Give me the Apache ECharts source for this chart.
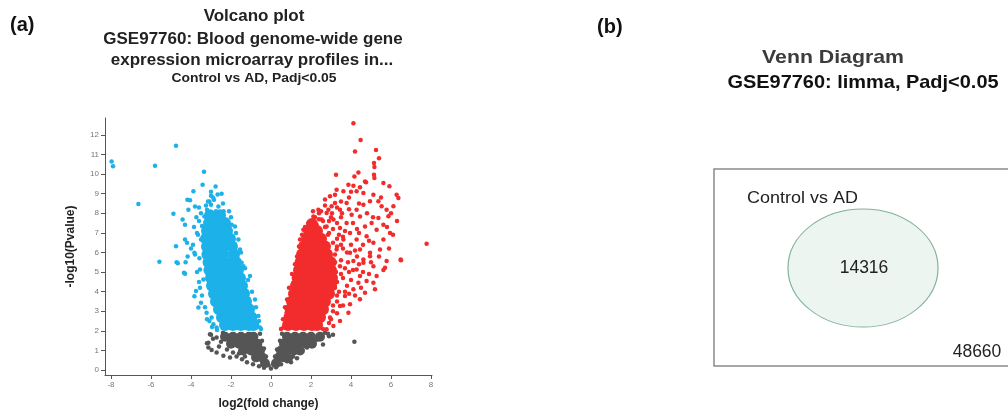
<!DOCTYPE html>
<html>
<head>
<meta charset="utf-8">
<title>Volcano plot / Venn diagram</title>
<script src="https://cdn.jsdelivr.net/npm/echarts@6/dist/echarts.min.js"></script>
<style>
  html, body { margin: 0; padding: 0; background: #fff; }
  #main { width: 1008px; height: 415px; }
</style>
</head>
<body>
<div id="main"></div>
<script>
// axis ticks
const xTicks = [-8, -6, -4, -2, 0, 2, 4, 6, 8]
const yTicks = [0, 1, 2, 3, 4, 5, 6, 7, 8, 9, 10, 11, 12]

// down-regulated (blue): dense body
const blueCore = [
  [-2.3,2.3],[-1.9,2.3],[-1.5,2.3],[-1.1,2.3],[-0.88,2.3],
  [-2.45,2.7],[-2.05,2.7],[-1.65,2.7],[-1.25,2.7],[-0.98,2.7],
  [-2.6,3.1],[-2.2,3.1],[-1.8,3.1],[-1.4,3.1],[-1.1,3.1],
  [-2.75,3.5],[-2.35,3.5],[-1.95,3.5],[-1.55,3.5],[-1.25,3.5],
  [-2.85,3.9],[-2.45,3.9],[-2.05,3.9],[-1.65,3.9],[-1.35,3.9],
  [-2.95,4.3],[-2.55,4.3],[-2.15,4.3],[-1.75,4.3],[-1.45,4.3],
  [-3.0,4.7],[-2.6,4.7],[-2.2,4.7],[-1.8,4.7],[-1.55,4.7],
  [-3.08,5.1],[-2.68,5.1],[-2.28,5.1],[-1.88,5.1],[-1.65,5.1],
  [-3.12,5.5],[-2.72,5.5],[-2.32,5.5],[-1.92,5.5],[-1.75,5.5],
  [-3.18,5.9],[-2.78,5.9],[-2.38,5.9],[-1.85,5.9],
  [-3.2,6.3],[-2.8,6.3],[-2.4,6.3],[-1.95,6.3],
  [-3.25,6.7],[-2.85,6.7],[-2.45,6.7],[-2.05,6.7],
  [-3.2,7.1],[-2.8,7.1],[-2.4,7.1],[-2.2,7.1],
  [-3.1,7.5],[-2.7,7.5],[-2.3,7.5],
  [-3.05,7.9],[-2.55,7.9]
]
// down-regulated (blue): scattered points and outliers
const blueDots = [
  [-7.97,10.64],[-7.9,10.4],[-6.63,8.47],[-5.8,10.42],[-4.75,11.45],[-3.35,10.12],
  [-3.42,9.46],[-2.77,9.37],[-2.47,9.0],[-3.88,9.12],[-4.18,8.69],[-4.05,8.66],
  [-4.88,7.98],[-5.58,5.53],[-4.72,5.5],[-4.66,5.45],[-4.75,6.32],[-4.42,7.68],
  [-4.3,6.66],[-4.27,5.5],[-4.35,4.96],[-4.3,4.92],[-3.75,4.03],[-3.63,3.19],[-3.08,2.5],
  [-4.13,8.18],[-3.8,8.35],[-3.73,7.8],[-4.3,7.42],[-4.2,6.5],[-4.0,6.2],[-3.7,7.0],
  [-3.45,7.35],[-3.2,8.18],[-3.0,8.43],[-2.85,8.69],[-2.63,8.35],[-2.37,8.1],[-2.22,7.5],
  [-1.97,7.42],[-1.8,7.33],[-3.0,8.9],[-2.67,8.96],[-3.08,8.6],[-3.33,7.83],[-3.5,6.66],
  [-3.83,5.98],[-4.17,5.8],[-3.58,5.7],[-1.63,6.66],[-1.55,6.15],[-1.47,5.47],
  [-3.55,5.13],[-3.38,4.62],[-3.83,3.77],[-3.5,3.43],[-3.22,2.93],[-2.97,2.68],[-2.88,2.34],
  [-2.72,2.17],[-1.05,4.8],[-0.8,3.6],[-0.63,2.76],[-0.55,2.17],[-1.38,5.3],
  [-3.6,4.5],[-3.7,5.0],[-3.8,5.9],[-3.9,6.4],[-3.65,6.9],[-3.85,7.3],[-3.6,7.6],
  [-3.3,3.2],[-3.45,3.8],[-3.55,4.2],[-3.2,2.6],[-2.95,2.2],[-2.7,2.05],[-3.5,8.0],
  [-3.25,8.4],[-2.4,8.5],[-2.1,8.1],[-2.0,7.8],[-1.75,7.0],[-1.5,6.0],[-1.3,5.2],
  [-1.15,4.6],[-0.95,4.0],[-0.75,3.2],[-0.6,2.5],[-0.5,2.1],[-3.0,9.1],[-2.9,8.8],
  [-3.15,8.6],[-3.6,8.3],[-2.75,8.1]
]

// up-regulated (red): dense body
const redCore = [
  [0.85,2.3],[1.25,2.3],[1.65,2.3],[2.05,2.3],[2.3,2.3],
  [0.92,2.7],[1.3,2.7],[1.7,2.7],[2.1,2.7],[2.45,2.7],
  [0.98,3.1],[1.38,3.1],[1.78,3.1],[2.18,3.1],[2.6,3.1],
  [1.05,3.5],[1.45,3.5],[1.85,3.5],[2.25,3.5],[2.7,3.5],
  [1.15,3.9],[1.55,3.9],[1.95,3.9],[2.35,3.9],[2.8,3.9],[2.9,3.9],
  [1.25,4.3],[1.65,4.3],[2.05,4.3],[2.45,4.3],[2.85,4.3],[3.0,4.3],
  [1.33,4.7],[1.73,4.7],[2.13,4.7],[2.53,4.7],[2.93,4.7],[3.05,4.7],
  [1.4,5.1],[1.8,5.1],[2.2,5.1],[2.6,5.1],[3.0,5.1],
  [1.48,5.5],[1.88,5.5],[2.28,5.5],[2.68,5.5],[2.98,5.5],
  [1.55,5.9],[1.95,5.9],[2.35,5.9],[2.8,5.9],
  [1.65,6.3],[2.05,6.3],[2.45,6.3],[2.7,6.3],
  [1.8,6.7],[2.2,6.7],[2.5,6.7],
  [1.9,7.1],[2.3,7.1],
  [2.05,7.45]
]
// up-regulated (red): scattered points and outliers
const redDots = [
  [4.12,12.59],[4.48,11.74],[4.2,11.15],[5.25,11.23],[5.4,10.81],[5.15,10.56],[5.17,10.36],
  [5.15,9.96],[5.17,9.8],[4.37,10.08],[3.25,9.96],[4.17,9.88],[4.7,9.62],[4.12,9.4],
  [4.45,9.33],[4.75,9.58],[3.87,9.46],[3.62,9.12],[3.2,8.95],[2.95,8.87],[2.7,8.7],
  [3.28,9.2],[4.28,9.12],[4.62,9.03],[5.12,8.95],[5.62,9.55],[5.92,9.38],[6.28,8.95],
  [6.37,8.78],[6.12,8.36],[5.78,8.18],[5.87,7.85],[5.53,8.36],[5.37,8.61],[4.95,8.61],
  [4.62,8.44],[4.28,8.18],[4.03,7.93],[3.78,8.52],[3.45,8.18],[3.03,8.36],[2.78,8.01],
  [2.53,7.68],[2.28,7.42],[5.37,7.76],[5.62,7.42],[5.03,7.5],[4.7,7.33],[4.45,7.84],
  [5.28,7.16],[5.95,7.0],[5.62,6.66],[5.12,6.49],[4.78,6.83],[7.78,6.44],[6.5,5.6],
  [5.45,6.15],[4.95,5.98],[4.62,5.64],[5.78,5.56],[6.48,5.64],[5.7,5.22],[5.62,5.1],
  [5.28,4.8],[5.12,4.46],[5.2,4.12],[4.78,4.54],[4.7,3.95],[4.45,3.61],[4.37,4.46],
  [3.95,3.36],[3.87,2.93],[3.45,2.51],[3.7,3.78],[4.12,4.12],[4.28,5.13],[4.62,5.47],
  [4.95,5.81],[3.45,3.27],[3.12,2.25],[2.95,2.68],[2.78,2.08],[5.12,5.3],[4.45,4.8],
  [0.62,2.17],[0.78,2.93],[0.95,3.61],[1.12,4.46],[1.28,5.13],[1.45,5.81],
  [1.45,6.66],[1.62,7.16],[1.87,7.5],[2.12,7.84],[1.78,6.32],[2.78,7.33],[3.12,7.68],
  [3.45,7.25],[3.78,7.5],[3.95,7.0],[3.62,6.66],[4.28,6.66],[3.28,6.15],[3.95,5.98],
  [4.45,6.15],[4.12,5.56],[2.87,8.18],[3.2,8.52],[2.37,8.18],
  [3.4,6.9],[3.6,6.2],[3.5,5.6],[3.7,5.2],[3.6,4.7],[3.8,4.3],[3.4,4.0],[3.3,3.5],
  [3.1,3.0],[2.9,2.4],[2.6,2.1],[3.2,5.9],[3.1,6.5],[2.9,7.0],[2.6,7.6],[2.4,8.0],
  [2.1,8.1],[3.0,7.8],[3.3,8.3],[3.9,8.8],[4.0,6.4],[4.3,7.2],[3.55,8.0],
  [3.3,4.5],[3.5,4.9],[3.9,5.0],[4.0,4.6],[3.7,4.0],[4.2,3.8],[3.6,3.3],[3.3,2.9],
  [3.0,2.6],[3.9,3.9],[4.5,4.2],[4.9,4.9],[4.4,5.4],[3.85,5.5],[3.5,6.4],[3.8,6.0],
  [4.2,6.1],[4.6,6.4],[4.9,6.6],[4.4,7.0],[4.1,7.5],[3.7,7.1],[3.3,7.5],[3.1,7.2],
  [3.5,7.8],[3.9,8.2],[4.4,8.5],[4.8,8.0],[5.1,7.8],[5.5,8.8],[4.0,9.1],[3.5,8.6],
  [3.05,8.0],[2.7,8.4],[2.5,8.1],[2.9,7.6],[3.3,6.7],[3.6,6.8],[4.3,5.8],[4.1,5.1],
  [4.6,5.0],[5.0,5.5],[5.4,5.8],[5.9,6.2],[6.1,6.9],[5.8,7.3],[6.3,7.6],[6.0,8.0],
  [3.2,4.2],[3.3,3.8],[3.1,3.3],[3.45,5.3],[3.25,5.0],[3.2,5.5],[3.3,6.3],[2.85,6.9],
  [2.7,7.3],[2.4,7.7],[2.2,7.8],[1.7,7.3],[1.55,6.9],[1.4,6.3],[1.3,5.8],[1.2,5.4],
  [1.05,4.9],[0.9,4.2],[0.8,3.6],[0.7,3.2],[0.6,2.6],[0.5,2.1]
]

// not significant (grey)
const grayCore = [
  [-2.3,1.7],[-1.9,1.7],[-1.5,1.7],[-1.1,1.7],[-0.88,1.7],
  [0.8,1.7],[1.2,1.7],[1.6,1.7],[2.0,1.7],[2.45,1.7],
  [-2.0,1.35],[-1.6,1.35],[-1.2,1.35],[-0.85,1.35],[-0.68,1.35],
  [0.65,1.35],[1.0,1.35],[1.4,1.35],[1.8,1.35],[2.05,1.35],
  [-1.4,1.0],[-1.0,1.0],[-0.7,1.0],[-0.55,1.0],
  [0.5,1.0],[0.8,1.0],[1.15,1.0],[1.45,1.0],
  [-0.75,0.65],[-0.45,0.65],[0.4,0.65],[0.65,0.65],[0.85,0.6],
  [-0.3,0.35],[0.25,0.35]
]
const grayDots = [
  [-3.2,1.37],[-3.13,1.15],[-2.97,1.03],[-2.72,0.9],[-2.38,0.73],[-2.05,0.64],[-1.72,0.69],
  [-1.45,0.55],[-1.2,0.4],[-0.9,0.3],[-0.6,0.2],[-0.35,0.12],[0.0,0.08],[0.25,0.15],
  [0.5,0.3],[0.8,0.45],[1.1,0.7],[1.45,0.95],[1.8,1.15],[2.1,1.35],[2.5,1.6],[2.9,1.73],
  [4.17,1.44],[-2.9,1.6],[-3.0,1.8],[-2.6,1.2],[-2.2,1.05],[-1.9,0.9],[-0.12,0.25],
  [0.12,0.3],[-3.05,1.83],[-2.72,1.66],[-3.13,1.4],[-2.5,1.45],[-2.4,1.9],[2.7,1.9],
  [2.85,1.85],[2.3,1.55],[-1.6,0.85],[-1.3,0.7],[1.3,0.6],[1.0,0.4],[2.6,1.3],[3.1,1.8],
  [-0.55,1.85],[0.55,1.85],[-0.45,1.5],[0.45,1.5],[-0.35,1.1],[0.3,1.05],[-0.25,0.7],[0.2,0.7]
]

// venn diagram
const vennSets = ['Control vs AD']
const vennCounts = [14316]
const vennOutside = 48660

const font = '"Liberation Sans", Arial, sans-serif'
const chart = echarts.init(document.getElementById('main'))

function txt(x, y, text, size, weight, color, align, sx) {
  return {
    type: 'text', x: x, y: y, scaleX: sx || 1, silent: true,
    style: {
      text: text, fill: color || '#222', textAlign: align || 'center', verticalAlign: 'middle',
      font: (weight || 'normal') + ' ' + size + 'px ' + font
    }
  }
}

const graphics = [
  txt(10, 25, '(a)', 20, 'bold', '#111', 'left'),
  txt(254, 16, 'Volcano plot', 16.5, 'bold', '#222', 'center', 1.03),
  txt(253, 39, 'GSE97760: Blood genome-wide gene', 16.5, 'bold', '#222', 'center', 1.03),
  txt(252, 60, 'expression microarray profiles in...', 16.5, 'bold', '#222', 'center', 1.03),
  txt(254, 78, 'Control vs AD, Padj<0.05', 13.5, 'bold', '#222', 'center', 1.03),
  txt(597, 27, '(b)', 20, 'bold', '#111', 'left'),
  txt(833, 58, 'Venn Diagram', 19, 'bold', '#3c3c3c', 'center', 1.12),
  txt(863, 83, 'GSE97760: limma, Padj<0.05', 19, 'bold', '#111', 'center', 1.05),
  {
    type: 'rect', silent: true,
    shape: { x: 714, y: 169, width: 320, height: 197 },
    style: { fill: '#fff', stroke: '#8a8a8a', lineWidth: 1.5 }
  },
  {
    type: 'circle', silent: true, x: 863, y: 268, scaleY: 59 / 75,
    shape: { cx: 0, cy: 0, r: 75 },
    style: { fill: '#edf5f0', stroke: '#7fb29c', lineWidth: 1.2, strokeNoScale: true }
  },
  txt(747, 198, vennSets[0], 16.5, 'normal', '#222', 'left', 1.09),
  txt(864, 268, String(vennCounts[0]), 17.5),
  txt(977, 352, String(vennOutside), 17.5)
]

function dots(name, data, color, size) {
  return {
    name: name, type: 'scatter', data: data, symbolSize: size,
    itemStyle: { color: color, opacity: 1 }, silent: true
  }
}

chart.setOption({
  animation: false,
  grid: { left: 105, right: 576, top: 118, bottom: 39, containLabel: false },
  xAxis: {
    type: 'value', min: -8.3, max: 8.05,
    name: 'log2(fold change)', nameLocation: 'middle', nameGap: 23,
    nameTextStyle: { fontFamily: font, fontWeight: 'bold', fontSize: 12, color: '#222' },
    axisLine: { onZero: false, lineStyle: { color: '#555' } },
    axisTick: { customValues: xTicks, length: 4, lineStyle: { color: '#555' } },
    axisLabel: { customValues: xTicks, fontFamily: font, fontSize: 8, color: '#777', margin: 6 },
    splitLine: { show: false }
  },
  yAxis: {
    type: 'value', min: -0.25, max: 12.86,
    name: '-log10(Pvalue)', nameLocation: 'middle', nameGap: 28, nameRotate: 90,
    nameTextStyle: { fontFamily: font, fontWeight: 'bold', fontSize: 12, color: '#222' },
    axisLine: { show: true, onZero: false, lineStyle: { color: '#555' } },
    axisTick: { show: true, customValues: yTicks, length: 4, lineStyle: { color: '#555' } },
    axisLabel: { customValues: yTicks, fontFamily: font, fontSize: 8, color: '#777', margin: 6 },
    splitLine: { show: false }
  },
  graphic: graphics,
  series: [
    dots('ns-core', grayCore, '#555555', 10),
    dots('ns', grayDots, '#555555', 4.5),
    dots('down-core', blueCore, '#1cb1e8', 12),
    dots('down', blueDots, '#1cb1e8', 4.5),
    dots('up-core', redCore, '#f22c2c', 12),
    dots('up', redDots, '#f22c2c', 4.5)
  ]
})
</script>
</body>
</html>
